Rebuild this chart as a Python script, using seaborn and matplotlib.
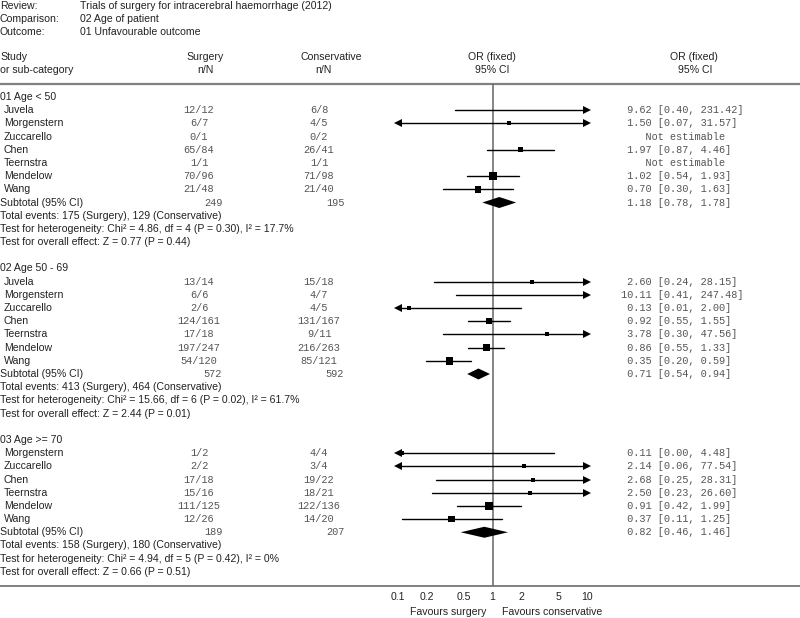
import numpy as np
import pandas as pd
import seaborn as sns
import matplotlib.pyplot as plt

# Datos del forest plot
group_names = ["01 Age < 50", "02 Age 50 - 69", "03 Age >= 70"]
studies = [
    ["Juvela", "Morgenstern", "Zuccarello", "Chen", "Teernstra", "Mendelow", "Wang"],
    ["Juvela", "Morgenstern", "Zuccarello", "Chen", "Teernstra", "Mendelow", "Wang"],
    ["Morgenstern", "Zuccarello", "Chen", "Teernstra", "Mendelow", "Wang"],
]
surgery_nN = [
    ["12/12", "6/7", "0/1", "65/84", "1/1", "70/96", "21/48"],
    ["13/14", "6/6", "2/6", "124/161", "17/18", "197/247", "54/120"],
    ["1/2", "2/2", "17/18", "15/16", "111/125", "12/26"],
]
conserv_nN = [
    ["6/8", "4/5", "0/2", "26/41", "1/1", "71/98", "21/40"],
    ["15/18", "4/7", "4/5", "131/167", "9/11", "216/263", "85/121"],
    ["4/4", "3/4", "19/22", "18/21", "122/136", "14/20"],
]
odds_ratio = [
    [9.62, 1.50, None, 1.97, None, 1.02, 0.70],
    [2.60, 10.11, 0.13, 0.92, 3.78, 0.86, 0.35],
    [0.11, 2.14, 2.68, 2.50, 0.91, 0.37],
]
ci_low = [
    [0.40, 0.07, None, 0.87, None, 0.54, 0.30],
    [0.24, 0.41, 0.01, 0.55, 0.30, 0.55, 0.20],
    [0.00, 0.06, 0.25, 0.23, 0.42, 0.11],
]
ci_high = [
    [231.42, 31.57, None, 4.46, None, 1.93, 1.63],
    [28.15, 247.48, 2.00, 1.55, 47.56, 1.33, 0.59],
    [4.48, 77.54, 28.31, 26.60, 1.99, 1.25],
]
# pesos aproximados (%) para el tamaño de los cuadrados
weights = [
    [1, 2, 0, 20, 0, 45, 30],
    [1, 1, 2, 22, 2, 30, 40],
    [1, 1, 2, 2, 45, 30],
]
sub_n_surg = [249, 572, 189]
sub_n_cons = [195, 592, 207]
sub_or = [1.18, 0.71, 0.82]
sub_low = [0.78, 0.54, 0.46]
sub_high = [1.78, 0.94, 1.46]
events_surg = [175, 413, 158]
events_cons = [129, 464, 180]
het_chi2 = ["4.86", "15.66", "4.94"]
het_df = [4, 6, 5]
het_p = ["0.30", "0.02", "0.42"]
het_i2 = ["17.7%", "61.7%", "0%"]
z_val = ["0.77", "2.44", "0.66"]
z_p = ["0.44", "0.01", "0.51"]

axis_ticks = [0.1, 0.2, 0.5, 1, 2, 5, 10]
axis_labels = ["0.1", "0.2", "0.5", "1", "2", "5", "10"]

sns.set_style("white")
plt.rcParams['font.family'] = ['Liberation Sans', 'DejaVu Sans']

W, H = 800, 618
Y0, DY = 97.0, 13.19
XMIN, XMAX = 0.1, 10
AX_TOP, AX_BOT = 84, 586
PX_L, PX_R = 398, 587


def ypx(r):
    return Y0 + DY * r


fig = plt.figure(figsize=(8, 6.18), dpi=100)
ax_txt = fig.add_axes([0, 0, 1, 1])
ax_txt.set_xlim(0, W)
ax_txt.set_ylim(H, 0)
ax_txt.axis('off')

ax = fig.add_axes([PX_L / W, (H - AX_BOT) / H, (PX_R - PX_L) / W, (AX_BOT - AX_TOP) / H])
ax.set_xscale('log')
ax.set_xlim(XMIN, XMAX)
ax.set_ylim((AX_BOT - Y0) / DY, (AX_TOP - Y0) / DY)
ax.patch.set_alpha(0)
for s in ax.spines.values():
    s.set_visible(False)
ax.set_yticks([])
ax.set_xticks(axis_ticks)
ax.set_xticklabels(axis_labels)
ax.minorticks_off()
ax.tick_params(axis='x', direction='out', length=3, width=0.8, color='#666666',
               labelsize=7.6, pad=1.5, labelcolor='#222222')

txt = dict(fontsize=7.6, color='#222222', va='center')
mono = dict(fontsize=7.4, color='#555555', va='center', family=['Liberation Mono', 'DejaVu Sans Mono'])

# Encabezado
ax_txt.text(0, 6, "Review:", **txt)
ax_txt.text(80, 6, "Trials of surgery for intracerebral haemorrhage (2012)", **txt)
ax_txt.text(0, 19, "Comparison:", **txt)
ax_txt.text(80, 19, "02 Age of patient", **txt)
ax_txt.text(0, 32, "Outcome:", **txt)
ax_txt.text(80, 32, "01 Unfavourable outcome", **txt)
ax_txt.text(0, 57, "Study", **txt)
ax_txt.text(0, 70, "or sub-category", **txt)
ax_txt.text(205, 57, "Surgery", ha='center', **txt)
ax_txt.text(205, 70, "n/N", ha='center', **txt)
ax_txt.text(331, 57, "Conservative", ha='center', **txt)
ax_txt.text(323, 70, "n/N", ha='center', **txt)
ax_txt.text(492, 57, "OR (fixed)", ha='center', **txt)
ax_txt.text(492, 70, "95% CI", ha='center', **txt)
ax_txt.text(694, 57, "OR (fixed)", ha='center', **txt)
ax_txt.text(695, 70, "95% CI", ha='center', **txt)
ax_txt.plot([0, W], [84, 84], color='#808080', lw=1.6, solid_capstyle='butt')
ax_txt.plot([0, W], [AX_BOT, AX_BOT], color='#808080', lw=1.4, solid_capstyle='butt')

ax.axvline(1, color='#666666', lw=1.1, zorder=0.5)

sq_rows = []
row = 0
for g in range(3):
    ax_txt.text(0, ypx(row), group_names[g], **txt)
    row += 1
    for i, name in enumerate(studies[g]):
        y = ypx(row)
        ax_txt.text(4, y, name, **txt)
        ax_txt.text(199, y, surgery_nN[g][i], ha='center', **mono)
        ax_txt.text(319, y, conserv_nN[g][i], ha='center', **mono)
        o, lo, hi = odds_ratio[g][i], ci_low[g][i], ci_high[g][i]
        if o is None:
            ax_txt.text(620.7, y, "    Not estimable", ha='left', **mono)
        else:
            ax_txt.text(620.7, y, f"{o:5.2f} [{lo:.2f}, {hi:.2f}]", ha='left', **mono)
            a, b = max(lo, XMIN), min(hi, XMAX)
            ax.plot([a, b], [row, row], color='black', lw=1.0, clip_on=False)
            if lo < XMIN:
                ax.plot([XMIN], [row], marker='<', ms=6, color='black', mew=0, clip_on=False)
            if hi > XMAX:
                ax.plot([XMAX], [row], marker='>', ms=6, color='black', mew=0, clip_on=False)
            if XMIN <= o <= XMAX:
                side_px = max(4.0, 1.2 * np.sqrt(weights[g][i]))
                sq_rows.append({'or': o, 'row': row, 'area': (side_px * 0.72) ** 2})
        row += 1
    y = ypx(row)
    ax_txt.text(0, y, "Subtotal (95% CI)", **txt)
    ax_txt.text(213, y, str(sub_n_surg[g]), ha='center', **mono)
    ax_txt.text(335, y, str(sub_n_cons[g]), ha='center', **mono)
    ax_txt.text(620.7, y, f"{sub_or[g]:5.2f} [{sub_low[g]:.2f}, {sub_high[g]:.2f}]", ha='left', **mono)
    hh = 5.5 / DY
    ax.fill([sub_low[g], sub_or[g], sub_high[g], sub_or[g]],
            [row, row - hh, row, row + hh], color='black', lw=0, zorder=3)
    row += 1
    ax_txt.text(0, ypx(row), f"Total events: {events_surg[g]} (Surgery), {events_cons[g]} (Conservative)", **txt)
    row += 1
    ax_txt.text(0, ypx(row), f"Test for heterogeneity: Chi\u00b2 = {het_chi2[g]}, df = {het_df[g]} "
                f"(P = {het_p[g]}), I\u00b2 = {het_i2[g]}", **txt)
    row += 1
    ax_txt.text(0, ypx(row), f"Test for overall effect: Z = {z_val[g]} (P = {z_p[g]})", **txt)
    row += 2

sq_df = pd.DataFrame(sq_rows)
amin, amax = sq_df['area'].min(), sq_df['area'].max()
sns.scatterplot(data=sq_df, x='or', y='row', size='area', sizes=(amin, amax),
                size_norm=(amin, amax), marker='s', color='black', linewidth=0,
                legend=False, ax=ax, zorder=3)
ax.set_xlabel('')
ax.set_ylabel('')

ax_txt.text(486, 612, "Favours surgery", ha='right', **txt)
ax_txt.text(502, 612, "Favours conservative", ha='left', **txt)

fig.savefig('out.png', dpi=100)
